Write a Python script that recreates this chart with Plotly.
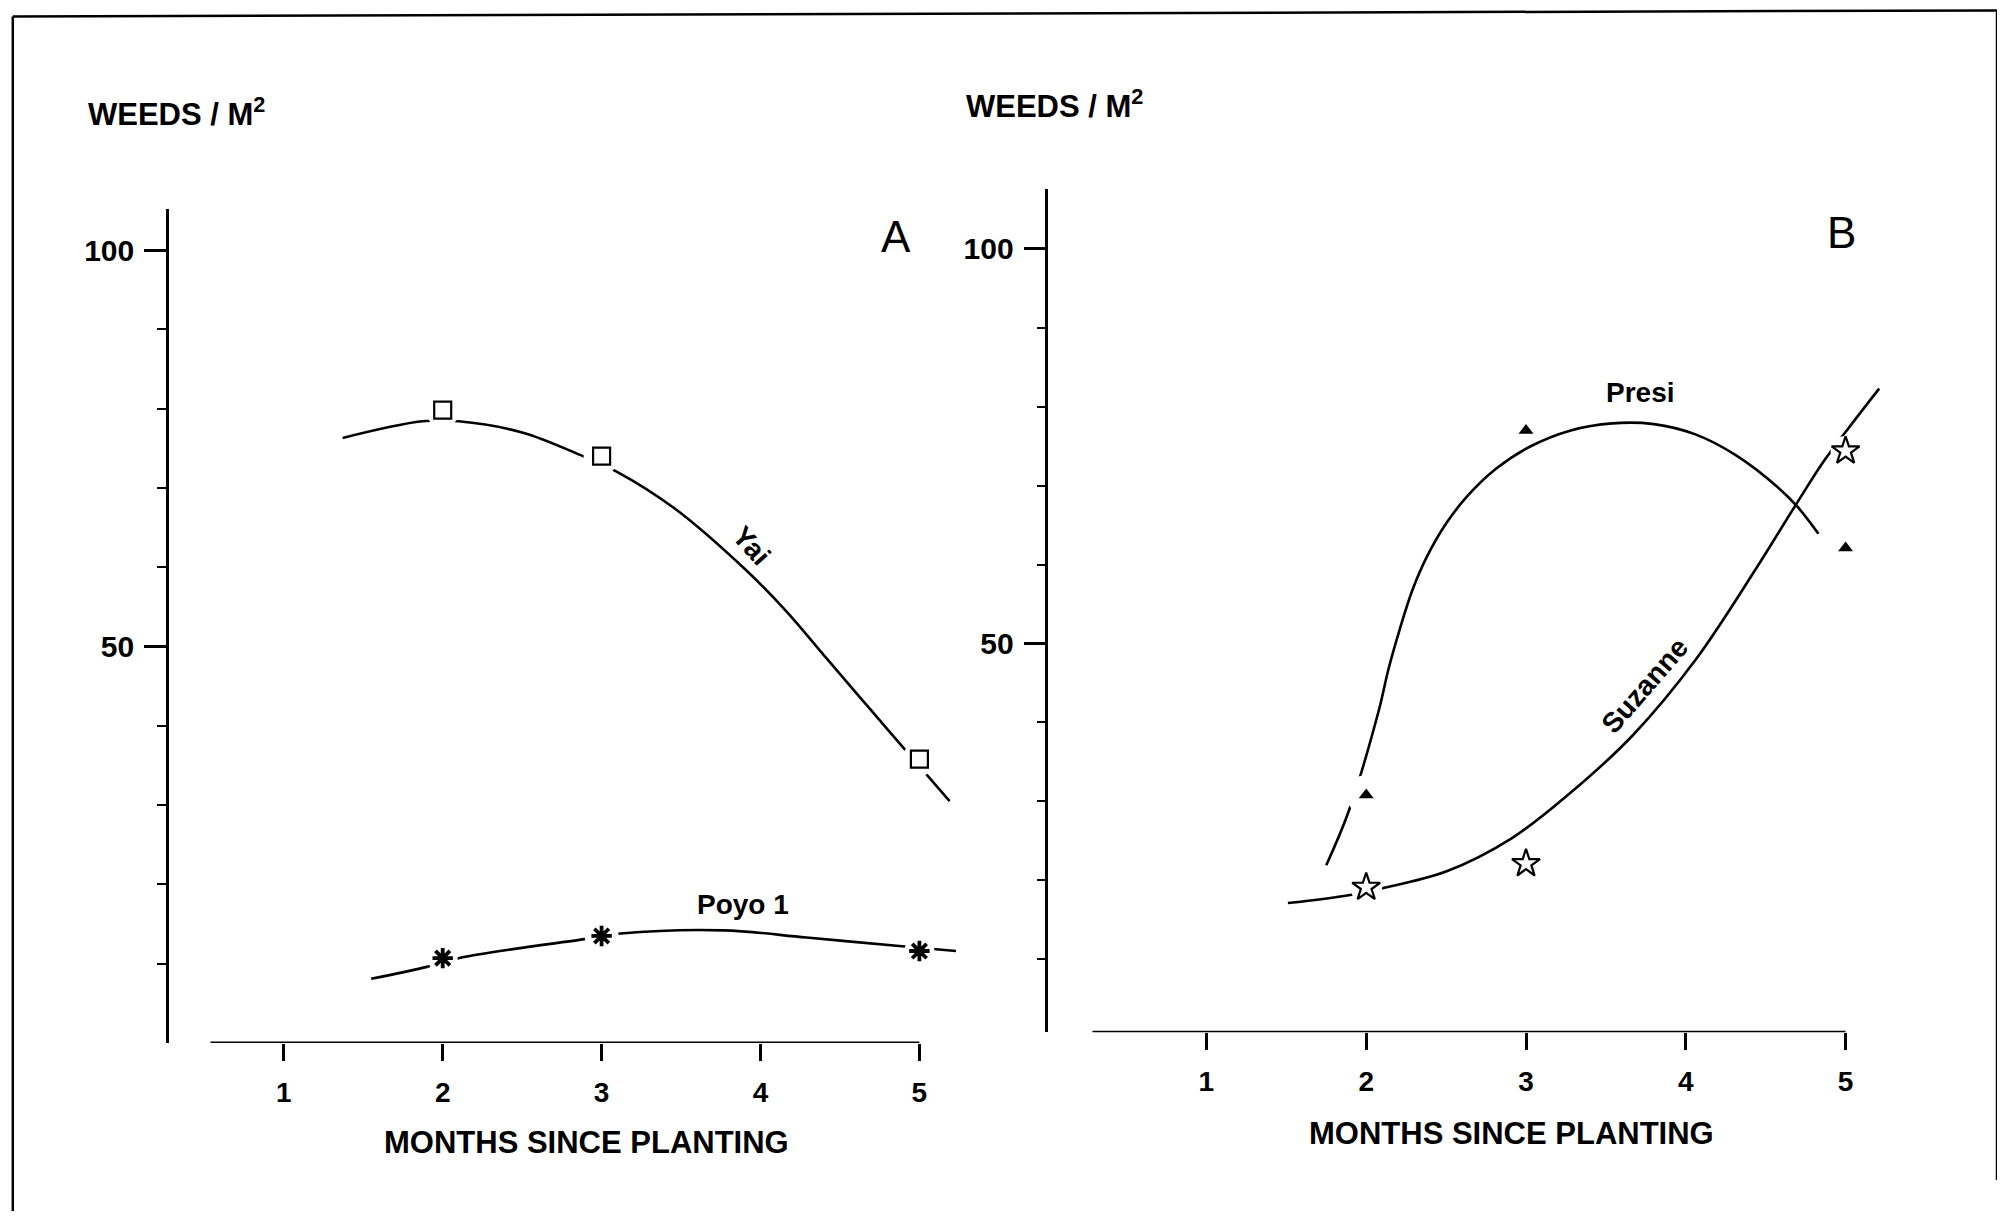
import plotly.graph_objects as go

# ---------------- data ----------------
months = [2, 3, 5]
x_ticks = [1, 2, 3, 4, 5]
x_tick_text = ["1", "2", "3", "4", "5"]
y_ticks = [50, 100]
y_tick_text = ["50", "100"]
y_minor = [10, 20, 30, 40, 60, 70, 80, 90]

# Panel A observations
yai = [79.8, 74.0, 35.8]
poyo1 = [10.7, 13.5, 11.6]
# Panel A fitted curves
yai_fit_x = [1.37, 1.87, 2.10, 2.50, 2.86, 3.10, 3.46, 3.90, 4.16, 4.42, 4.63, 4.81, 5.19]
yai_fit_y = [76.3, 78.4, 78.4, 77.0, 74.2, 72.0, 67.4, 59.8, 54.5, 48.4, 43.5, 39.3, 30.5]
poyo_fit_x = [1.55, 1.90, 2.10, 2.50, 2.86, 3.12, 3.77, 4.29, 4.89, 5.23]
poyo_fit_y = [8.1, 9.6, 10.7, 12.0, 13.0, 13.8, 14.2, 13.3, 12.2, 11.6]

# Panel B observations
presi = [30.8, 77.0, 62.1]
suzanne = [19.1, 22.1, 74.4]
# Panel B fitted curves
presi_fit_x = [1.75, 1.89, 2.08, 2.14, 2.21, 2.29, 2.38, 2.50, 2.63, 2.81, 3.02,
               3.28, 3.54, 3.80, 4.06, 4.31, 4.57, 4.70, 4.83]
presi_fit_y = [21.9, 28.7, 41.6, 46.8, 51.8, 56.8, 61.0, 65.2, 68.6, 72.1, 74.9,
               77.0, 77.9, 77.8, 76.5, 73.9, 69.9, 67.3, 63.9]
suz_fit_x = [1.51, 1.89, 2.08, 2.50, 2.91, 3.28, 3.67, 4.06, 4.44, 4.68, 4.86, 5.03, 5.21]
suz_fit_y = [17.1, 18.1, 18.9, 21.1, 25.3, 31.1, 38.4, 47.9, 59.5, 67.3, 73.0, 77.6, 82.3]

FONT = "Liberation Sans, Arial, sans-serif"
PAGE_W, PAGE_H = 2005, 1219
OFF = 8                       # default body margin of the html page
W, H = PAGE_W - 2 * OFF, PAGE_H - 2 * OFF


def px(x):
    return (x - OFF) / W


def py(y):
    return 1 - (y - OFF) / H


fig = go.Figure()


def curve(x, y, xa, ya):
    fig.add_trace(go.Scatter(x=x, y=y, mode="lines", xaxis=xa, yaxis=ya,
                             line=dict(color="black", width=2.6, shape="spline", smoothing=1.0),
                             hoverinfo="skip", showlegend=False))


def halo(x, y, xa, ya, sizes):
    fig.add_trace(go.Scatter(x=x, y=y, mode="markers", xaxis=xa, yaxis=ya,
                             marker=dict(symbol="circle", size=sizes, color="white",
                                         opacity=1, line=dict(width=0)),
                             hoverinfo="skip", showlegend=False, cliponaxis=False))


def marks(x, y, xa, ya, name, symbol, size, fill, lw):
    fig.add_trace(go.Scatter(x=x, y=y, mode="markers", xaxis=xa, yaxis=ya, name=name,
                             marker=dict(symbol=symbol, size=size, color=fill, opacity=1,
                                         line=dict(color="black", width=lw)),
                             showlegend=False, cliponaxis=False))


# Panel A
curve(yai_fit_x, yai_fit_y, "x", "y")
curve(poyo_fit_x, poyo_fit_y, "x", "y")
halo(months, yai, "x", "y", [34, 36, 34])
halo(months, poyo1, "x", "y", [30, 34, 30])
marks(months, yai, "x", "y", "Yai", "square", 17, "white", 2.2)
marks(months, poyo1, "x", "y", "Poyo 1", "asterisk", 17, "black", 3.8)

# Panel B
curve(presi_fit_x, presi_fit_y, "x2", "y2")
curve(suz_fit_x, suz_fit_y, "x2", "y2")
halo(months, presi, "x2", "y2", [40, 0, 0])
halo(months, suzanne, "x2", "y2", [32, 0, 30])
marks(months, presi, "x2", "y2", "Presi", "triangle-up", 13, "black", 0)
marks(months, suzanne, "x2", "y2", "Suzanne", "star", 21, "white", 2.2)

xtickfont = dict(family=FONT, size=28, color="black", weight="bold")
ytickfont = dict(family=FONT, size=30, color="black", weight="bold")


def xaxis(domain, rng):
    return dict(domain=domain, range=rng, showline=False, zeroline=False, showgrid=False,
                tickmode="array", tickvals=x_ticks, ticktext=x_tick_text,
                ticks="outside", ticklen=17, tickwidth=2.5, tickcolor="black",
                tickfont=xtickfont, ticklabelstandoff=7, fixedrange=True)


def yaxis(domain, rng, anchor):
    return dict(domain=domain, range=rng, anchor=anchor, showline=True, linecolor="black",
                linewidth=2.6, zeroline=False, showgrid=False,
                tickmode="array", tickvals=y_ticks, ticktext=y_tick_text,
                ticks="outside", ticklen=22, tickwidth=2.5, tickcolor="black",
                tickfont=ytickfont, ticklabelstandoff=4,
                minor=dict(tickmode="array", tickvals=y_minor, ticks="outside",
                           ticklen=9, tickwidth=2, tickcolor="black", showgrid=False),
                fixedrange=True)


# panel A geometry (page pixels)
xa_rng = [0.2775, 5.35]
ya_rng = [0.0, 105.2]
xa_dom = [px(169), px(124.9 + 158.9 * 5.35)]
ya_dom = [py(1043), py(208.8)]
# panel B geometry (page pixels)
xb_rng = [0.0113, 5.35]
yb_rng = [0.72, 107.6]
xb_dom = [px(1048.4), px(1046.6 + 159.8 * 5.35)]
yb_dom = [py(1032.3), py(189)]

fig.update_layout(
    width=W, height=H, autosize=False,
    margin=dict(l=0, r=0, t=0, b=0),
    paper_bgcolor="white", plot_bgcolor="rgba(0,0,0,0)",
    font=dict(family=FONT, color="black"),
    xaxis=dict(xaxis(xa_dom, xa_rng), anchor="y"),
    yaxis=yaxis(ya_dom, ya_rng, "x"),
    xaxis2=dict(xaxis(xb_dom, xb_rng), anchor="y2"),
    yaxis2=yaxis(yb_dom, yb_rng, "x2"),
    showlegend=False,
)

shapes = [
    # x-axis baselines (detached from the y axes)
    dict(type="line", xref="x", yref="y", x0=0.539, x1=5.0, y0=0, y1=0,
         line=dict(color="black", width=3)),
    dict(type="line", xref="x2", yref="y2", x0=0.287, x1=5.0, y0=0.72, y1=0.72,
         line=dict(color="black", width=3)),
    # outer frame
    dict(type="line", xref="paper", yref="paper", x0=px(12.8), x1=px(12.8),
         y0=0, y1=py(16.6), line=dict(color="black", width=2.5)),
    dict(type="line", xref="paper", yref="paper", x0=px(12.8), x1=px(1997),
         y0=py(16.6), y1=py(10.4), line=dict(color="black", width=2.5)),
    dict(type="line", xref="paper", yref="paper", x0=px(1997), x1=px(1997),
         y0=py(1180), y1=py(10.4), line=dict(color="black", width=2.5)),
    dict(type="line", xref="paper", yref="paper", x0=px(920), x1=px(1586),
         y0=py(1214), y1=py(1214), line=dict(color="#9a9a9a", width=3)),
]
fig.update_layout(shapes=shapes)

lab = dict(family=FONT, size=28, color="black", weight="bold")
title_font = dict(family=FONT, size=31, color="black", weight="bold")
panel_font = dict(family=FONT, size=44, color="black")

annotations = [
    # y-axis titles
    dict(text="WEEDS / M<sup>2</sup>", xref="paper", yref="paper", x=px(86), y=py(112),
         xanchor="left", yanchor="middle", showarrow=False, font=title_font),
    dict(text="WEEDS / M<sup>2</sup>", xref="paper", yref="paper", x=px(963.6), y=py(104),
         xanchor="left", yanchor="middle", showarrow=False, font=title_font),
    # x-axis titles
    dict(text="MONTHS SINCE PLANTING", xref="paper", yref="paper", x=px(586.7), y=py(1142.8),
         xanchor="center", yanchor="middle", showarrow=False, font=title_font),
    dict(text="MONTHS SINCE PLANTING", xref="paper", yref="paper", x=px(1511.4), y=py(1133),
         xanchor="center", yanchor="middle", showarrow=False, font=title_font),
    # panel letters
    dict(text="A", xref="x", yref="y", x=4.854, y=101.7, showarrow=False, font=panel_font),
    dict(text="B", xref="x2", yref="y2", x=4.977, y=102.1, showarrow=False, font=panel_font),
    # series labels
    dict(text="Yai", xref="x", yref="y", x=3.94, y=62.7, textangle=48, showarrow=False, font=lab),
    dict(text="Poyo 1", xref="x", yref="y", x=3.887, y=17.5, showarrow=False, font=lab),
    dict(text="Presi", xref="x2", yref="y2", x=3.718, y=81.8, showarrow=False, font=lab),
    dict(text="Suzanne", xref="x2", yref="y2", x=3.743, y=44.7, textangle=-49,
         showarrow=False, font=lab),
]
fig.update_layout(annotations=annotations)

fig.write_html("out.html", config={"displayModeBar": False})
